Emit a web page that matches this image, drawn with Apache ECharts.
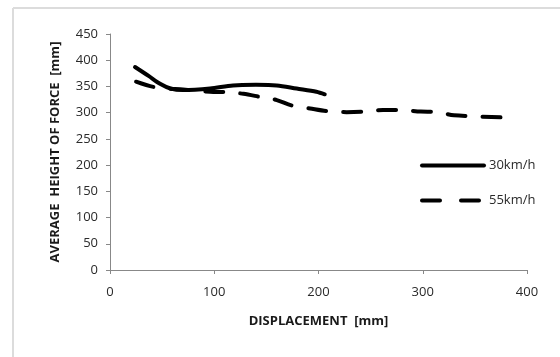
<!DOCTYPE html>
<html>
<head>
<meta charset="utf-8">
<script src="https://cdn.jsdelivr.net/npm/echarts@6/dist/echarts.min.js"></script>
<style>
  html, body { margin: 0; padding: 0; background: #fff; }
  #chart { width: 560px; height: 357px; }
</style>
</head>
<body>
<div id="chart"></div>
<script>
// displacement [mm], average height of force [mm]
const disp30 = [24, 37, 48, 58, 70, 96, 118, 140, 160, 179, 198, 206];
const height30 = [387, 370, 355, 346, 343, 346, 352, 353, 352, 346, 340, 335];

const disp55 = [25, 42, 70, 96, 112, 128, 144, 160, 174, 192, 208, 227, 245, 262, 278, 298, 314, 330, 376];
const height55 = [359, 349, 344, 340, 339, 336, 330, 324, 314, 308, 303, 301, 302, 305, 305, 302, 301, 295, 291];

const seriesNames = ['30km/h', '55km/h'];

const toPairs = (xs, ys) => xs.map((x, i) => [x, ys[i]]);

const chart = echarts.init(document.getElementById('chart'));

const labelFont = { fontFamily: 'Open Sans, Noto Sans, sans-serif', fontSize: 13, color: '#2a2a2a' };
const nameFont = { fontFamily: 'Open Sans, Noto Sans, sans-serif', fontSize: 13, fontWeight: 'bold', color: '#1a1a1a' };

chart.setOption({
  animation: false,
  backgroundColor: '#fff',
  graphic: [
    // light frame around the chart area
    { type: 'line', shape: { x1: 13, y1: 8, x2: 560, y2: 8 }, style: { stroke: '#dcdcdc', lineWidth: 2 } },
    { type: 'line', shape: { x1: 13, y1: 8, x2: 13, y2: 357 }, style: { stroke: '#dcdcdc', lineWidth: 2 } }
  ],
  grid: { left: 110, right: 33, top: 34, bottom: 87 },
  legend: {
    orient: 'vertical',
    left: 415,
    top: 154,
    itemWidth: 62,
    itemHeight: 14,
    itemGap: 22,
    data: [
      { name: seriesNames[0] },
      { name: seriesNames[1], lineStyle: { type: [18, 21] } }
    ],
    itemStyle: { opacity: 0 },
    lineStyle: { width: 4 },
    textStyle: Object.assign({}, labelFont, { padding: [0, 0, 0, 0] })
  },
  xAxis: {
    type: 'value',
    min: 0,
    max: 400,
    interval: 100,
    name: 'DISPLACEMENT  [mm]',
    nameLocation: 'middle',
    nameGap: 45,
    nameTextStyle: nameFont,
    axisLine: { lineStyle: { color: '#888', width: 1 } },
    axisTick: { show: true, length: 4, lineStyle: { color: '#888' } },
    axisLabel: Object.assign({ margin: 16 }, labelFont),
    splitLine: { show: false }
  },
  yAxis: {
    type: 'value',
    min: 0,
    max: 450,
    interval: 50,
    name: 'AVERAGE  HEIGHT OF FORCE  [mm]',
    nameLocation: 'middle',
    nameGap: 48,
    nameRotate: 90,
    nameTextStyle: nameFont,
    axisLine: { show: true, lineStyle: { color: '#888', width: 1 } },
    axisTick: { show: true, length: 4, lineStyle: { color: '#888' } },
    axisLabel: Object.assign({ margin: 12 }, labelFont),
    splitLine: { show: false }
  },
  series: [
    {
      name: seriesNames[0],
      type: 'line',
      data: toPairs(disp30, height30),
      smooth: 0.3,
      showSymbol: false,
      symbol: 'none',
      color: '#000',
      lineStyle: { color: '#000', width: 4, cap: 'round' }
    },
    {
      name: seriesNames[1],
      type: 'line',
      data: toPairs(disp55, height55),
      smooth: 0.3,
      showSymbol: false,
      symbol: 'none',
      color: '#000',
      lineStyle: { color: '#000', width: 4, type: [18, 17], cap: 'round' }
    }
  ]
});
</script>
</body>
</html>
